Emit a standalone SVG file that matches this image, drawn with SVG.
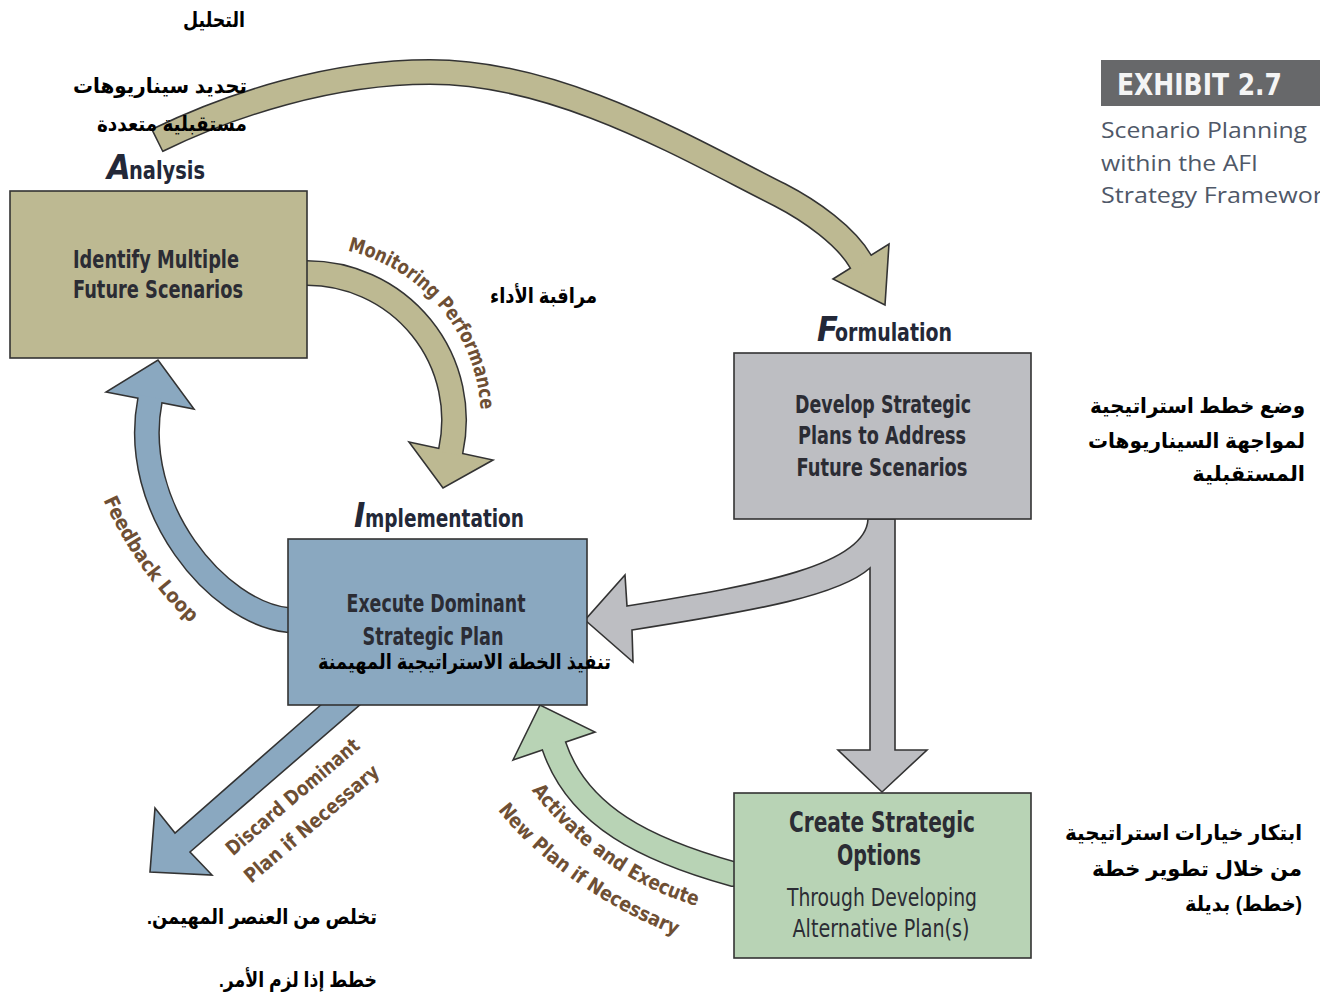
<svg xmlns="http://www.w3.org/2000/svg" width="1320" height="996" viewBox="0 0 1320 996">
  <defs>
    <style>
      .box{stroke:#333;stroke-width:1.6}
      .tan{fill:#bdb992}
      .gry{fill:#bdbec2}
      .blu{fill:#8aa8c0}
      .grn{fill:#b8d3b5}
      .out{fill:none;stroke:#333;stroke-width:26}
      .sh{fill:none;stroke-width:23}
      .shTan{stroke:#bdb992}
      .shBlu{stroke:#8aa8c0}
      .shGrn{stroke:#b8d3b5}
      .head{stroke:#333;stroke-width:1.6;stroke-linejoin:miter}
      .cond{font-family:"Liberation Sans Narrow","DejaVu Sans Condensed","DejaVu Sans",sans-serif;font-weight:bold}
      .bt{font-size:25px;fill:#2b2c34;text-anchor:middle}
      .big{font-size:28px}
      .reg{font-weight:normal;font-size:24px}
      .ttl{font-size:25px;fill:#232838}
      .ini{font-size:34px;font-style:italic;fill:#232838}
      .lbl{font-size:20px;fill:#6e4f34}
      .ar{font-family:"Liberation Sans","DejaVu Sans",sans-serif;font-weight:bold;font-size:21px;fill:#000;direction:rtl;text-anchor:start}
      .sub{font-family:"Open Sans","Liberation Sans",sans-serif;font-size:22px;fill:#4f5868}
    </style>
    <!-- baselines for the curved labels -->
    <path id="monPath" d="M276.8,248.6 A174,174 0 0 1 470.5,479.5"/>
    <path id="fbPath" d="M98,488 Q135,575 200,632"/>
    <path id="acPath1" d="M523,778 C556,828 621,888 711,910"/>
    <path id="acPath2" d="M492,802 C515,836 580,899 685,939"/>
  </defs>

  <rect width="1320" height="996" fill="#fff"/>

  <!-- connectors -->
  <g id="connectors">
    <!-- Analysis to Formulation -->
    <g id="arc-analysis-formulation">
      <path class="out" d="M156.6,140.7 L158,140 C230,105 330,72 430,72 C560,72 690,150 780,195 C811,211 846,236 861,262"/>
      <polygon class="tan head" points="833,279 889,244 885,305"/>
      <path class="sh shTan" d="M158,140 C230,105 330,72 430,72 C560,72 690,150 780,195 C811,211 846,236 861,262 l1.5,2.6"/>
    </g>

    <!-- Monitoring Performance -->
    <g id="arc-monitoring">
      <path class="out" d="M300,273 L307,273 A147,147 0 0 1 450.8,450.6"/>
      <polygon class="tan head" points="409,442 493,460 443,488"/>
      <path class="sh shTan" d="M300,273 L307,273 A147,147 0 0 1 450.8,450.6 l-0.6,3"/>
      <text class="cond lbl"><textPath href="#monPath" startOffset="50%" text-anchor="middle" textLength="222" lengthAdjust="spacingAndGlyphs">Monitoring Performance</textPath></text>
    </g>

    <!-- Feedback Loop -->
    <g id="arc-feedback">
      <path class="out" d="M296,621 L288,620 C218,613 129,508 150,400"/>
      <polygon class="blu head" points="106,392 194,409 158,360"/>
      <path class="sh shBlu" d="M296,621 L288,620 C218,613 129,508 150,400 l0.6,-3"/>
      <text class="cond lbl"><textPath href="#fbPath" startOffset="50%" text-anchor="middle" textLength="152" lengthAdjust="spacingAndGlyphs">Feedback Loop</textPath></text>
    </g>

    <!-- Formulation to Implementation and to Options -->
    <g id="arrow-formulation">
      <path class="gry head" d="M868,519 C866,565 760,585 627,606 L625,575 L585,620 L633,662 L632,630 C760,610 840,595 870,568 L870,750 L838,750 L882,792 L927,750 L895,750 L895,519 Z"/>
    </g>

    <!-- Discard Dominant Plan -->
    <g id="arrow-discard">
      <polygon class="blu head" points="323,703 175,833 155,808 150,872 212,875 190,852 362,703"/>
      <text class="cond lbl" text-anchor="middle" textLength="168" lengthAdjust="spacingAndGlyphs" transform="translate(297,802) rotate(-40.4)">Discard Dominant</text>
      <text class="cond lbl" text-anchor="middle" textLength="170" lengthAdjust="spacingAndGlyphs" transform="translate(316,829) rotate(-40.4)">Plan if Necessary</text>
    </g>

    <!-- Activate and Execute New Plan -->
    <g id="arc-activate">
      <path class="out" d="M740,874 L733,874 C647,850 578,817 554,746"/>
      <polygon class="grn head" points="513,760 595,732 540,705"/>
      <path class="sh shGrn" d="M740,874 L733,874 C647,850 578,817 554,746 l-1,-3"/>
      <text class="cond lbl"><textPath href="#acPath1" startOffset="50%" text-anchor="middle" textLength="205" lengthAdjust="spacingAndGlyphs">Activate and Execute</textPath></text>
      <text class="cond lbl"><textPath href="#acPath2" startOffset="50%" text-anchor="middle" textLength="220" lengthAdjust="spacingAndGlyphs">New Plan if Necessary</textPath></text>
    </g>
  </g>

  <!-- Analysis -->
  <g id="analysis">
    <text class="cond ini" x="107" y="179">A</text>
    <text class="cond ttl" x="129" y="179" textLength="76" lengthAdjust="spacingAndGlyphs">nalysis</text>
    <rect class="box tan" x="10" y="191" width="297" height="167"/>
    <text class="cond bt" x="156" y="268" textLength="166" lengthAdjust="spacingAndGlyphs">Identify Multiple</text>
    <text class="cond bt" x="158" y="298" textLength="170" lengthAdjust="spacingAndGlyphs">Future Scenarios</text>
    <text class="ar" x="245" y="27" font-size="19" textLength="62" lengthAdjust="spacingAndGlyphs">التحليل</text>
    <text class="ar" x="247" y="93" textLength="174" lengthAdjust="spacingAndGlyphs">تحديد سيناريوهات</text>
    <text class="ar" x="247" y="131" textLength="150" lengthAdjust="spacingAndGlyphs">مستقبلية متعددة</text>
    <text class="ar" x="597" y="303" font-size="19" textLength="107" lengthAdjust="spacingAndGlyphs">مراقبة الأداء</text>
  </g>

  <!-- Formulation -->
  <g id="formulation">
    <text class="cond ini" x="817" y="341">F</text>
    <text class="cond ttl" x="835" y="341" textLength="117" lengthAdjust="spacingAndGlyphs">ormulation</text>
    <rect class="box gry" x="734" y="353" width="297" height="166"/>
    <text class="cond bt" x="883" y="413" textLength="176" lengthAdjust="spacingAndGlyphs">Develop Strategic</text>
    <text class="cond bt" x="882" y="444" textLength="168" lengthAdjust="spacingAndGlyphs">Plans to Address</text>
    <text class="cond bt" x="882" y="476" textLength="171" lengthAdjust="spacingAndGlyphs">Future Scenarios</text>
    <text class="ar" x="1305" y="413" textLength="215" lengthAdjust="spacingAndGlyphs">وضع خطط استراتيجية</text>
    <text class="ar" x="1305" y="448" textLength="217" lengthAdjust="spacingAndGlyphs">لمواجهة السيناريوهات</text>
    <text class="ar" x="1305" y="481" font-size="20">المستقبلية</text>
  </g>

  <!-- Implementation -->
  <g id="implementation">
    <text class="cond ini" x="354" y="527">I</text>
    <text class="cond ttl" x="365" y="527" textLength="159" lengthAdjust="spacingAndGlyphs">mplementation</text>
    <rect class="box blu" x="288" y="539" width="299" height="166"/>
    <text class="cond bt" x="436" y="612" textLength="179" lengthAdjust="spacingAndGlyphs">Execute Dominant</text>
    <text class="cond bt" x="433" y="645" textLength="141" lengthAdjust="spacingAndGlyphs">Strategic Plan</text>
    <text class="ar" x="611" y="669" textLength="293" lengthAdjust="spacingAndGlyphs">تنفيذ الخطة الاستراتيجية المهيمنة</text>
    <text class="ar" x="377" y="924" textLength="230" lengthAdjust="spacingAndGlyphs">تخلص من العنصر المهيمن.</text>
    <text class="ar" x="377" y="987" textLength="158" lengthAdjust="spacingAndGlyphs">خطط إذا لزم الأمر.</text>
  </g>

  <!-- Strategic options -->
  <g id="options">
    <rect class="box grn" x="734" y="793" width="297" height="165"/>
    <text class="cond bt big" x="882" y="832" textLength="186" lengthAdjust="spacingAndGlyphs">Create Strategic</text>
    <text class="cond bt big" x="879" y="865" textLength="84" lengthAdjust="spacingAndGlyphs">Options</text>
    <text class="cond bt reg" x="882" y="906" textLength="190" lengthAdjust="spacingAndGlyphs">Through Developing</text>
    <text class="cond bt reg" x="881" y="937" textLength="177" lengthAdjust="spacingAndGlyphs">Alternative Plan(s)</text>
    <text class="ar" x="1302" y="840" textLength="237" lengthAdjust="spacingAndGlyphs">ابتكار خيارات استراتيجية</text>
    <text class="ar" x="1302" y="876" textLength="210" lengthAdjust="spacingAndGlyphs">من خلال تطوير خطة</text>
    <text class="ar" x="1302" y="911" textLength="117" lengthAdjust="spacingAndGlyphs">(خطط) بديلة</text>
  </g>

  <!-- Exhibit caption -->
  <g id="exhibit">
    <rect x="1101" y="60" width="219" height="46" fill="#67686a"/>
    <text class="cond" x="1117" y="95" font-size="30" fill="#f4f4f4" textLength="165" lengthAdjust="spacingAndGlyphs">EXHIBIT 2.7</text>
    <text class="sub" x="1101" y="138" textLength="206" lengthAdjust="spacingAndGlyphs">Scenario Planning</text>
    <text class="sub" x="1101" y="171" textLength="157" lengthAdjust="spacingAndGlyphs">within the AFI</text>
    <text class="sub" x="1101" y="203" textLength="222" lengthAdjust="spacingAndGlyphs">Strategy Framewor</text>
  </g>
</svg>
